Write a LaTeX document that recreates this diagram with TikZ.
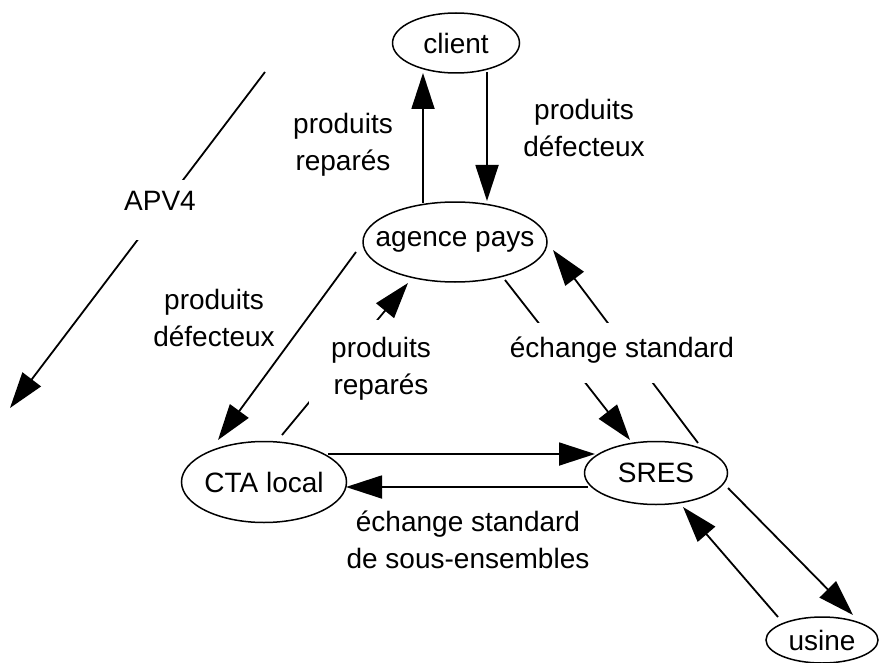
\documentclass[tikz,border=0pt]{standalone}
\usepackage{fontspec}
\setmainfont{Liberation Sans}
\usetikzlibrary{shapes.geometric,arrows.meta,calc}
\tikzset{
  ell/.style={ellipse, draw, line width=1.5pt, inner sep=0pt, font=\fontsize{28pt}{37pt}\selectfont},
  arr/.style={line width=1.8pt, -{Triangle[length=36pt,width=23pt]}},
  lbl/.style={align=center, font=\fontsize{28pt}{37pt}\selectfont, inner sep=0pt},
  slbl/.style={font=\fontsize{28pt}{37pt}\selectfont, inner sep=0pt},
  gap/.style={fill=white}
}
\begin{document}
\begin{tikzpicture}[x=1pt,y=-1pt]
\useasboundingbox (0,0) rectangle (880,663);
% nodes
\node[ell, minimum width=127pt, minimum height=60pt] (client) at (456,43) {\makebox[0pt]{client}};
\node[ell, minimum width=184pt, minimum height=80pt] (agence) at (455,242) {\makebox[0pt]{agence pays}};
\node[ell, minimum width=165pt, minimum height=81pt] (cta) at (264,482) {\makebox[0pt]{CTA local}};
\node[ell, minimum width=143pt, minimum height=63pt] (sres) at (656,473) {\makebox[0pt]{SRES}};
\node[ell, minimum width=112pt, minimum height=46pt] (usine) at (822,640) {\makebox[0pt]{usine}};
\coordinate (apvA) at (265,72);
\coordinate (apvB) at (10,408);
% connectors
\draw[arr] ($(agence)+(-32,-39)$) -- ($(client)+(-33,30)$);
\draw[arr] ($(client)+(31,29)$) -- ($(agence)+(32,-41)$);
\draw[arr] ($(agence)+(-99,10)$) -- ($(cta)+(-46,-42)$);
\draw[arr] ($(cta)+(18,-47)$) -- ($(agence)+(-47,41)$);
\draw[arr] ($(agence)+(50,38)$) -- ($(sres)+(-26,-33)$);
\draw[arr] ($(sres)+(42,-30)$) -- ($(agence)+(98,8)$);
\draw[arr] ($(cta)+(64,-28)$) -- ($(sres)+(-61,-19)$);
\draw[arr] ($(sres)+(-68,14)$) -- ($(cta)+(82,5)$);
\draw[arr] ($(sres)+(72,15)$) -- ($(usine)+(31,-25)$);
\draw[arr] ($(usine)+(-44,-23)$) -- ($(sres)+(27,34)$);
\draw[arr] (apvA) -- (apvB);
% labels
\node[slbl, gap, anchor=base, text height=31pt, text depth=29pt, inner xsep=2pt] (apv) at (160,211) {APV4};
\node[lbl] (l1) at (343,145) {produits\\reparés};
\node[lbl] (l2) at (584,128) {produits\\défecteux};
\node[lbl] (l3) at (214,318) {produits\\défecteux};
\node[lbl, gap, inner xsep=22pt, inner ysep=17pt] (l4) at (381,369) {produits\\reparés};
\node[slbl, gap, anchor=base, text height=34pt, text depth=26pt, inner xsep=2pt] (l5) at (622,357) {échange standard};
\node[lbl] (l6) at (468,540) {échange standard\\de sous-ensembles};
\end{tikzpicture}
\end{document}
